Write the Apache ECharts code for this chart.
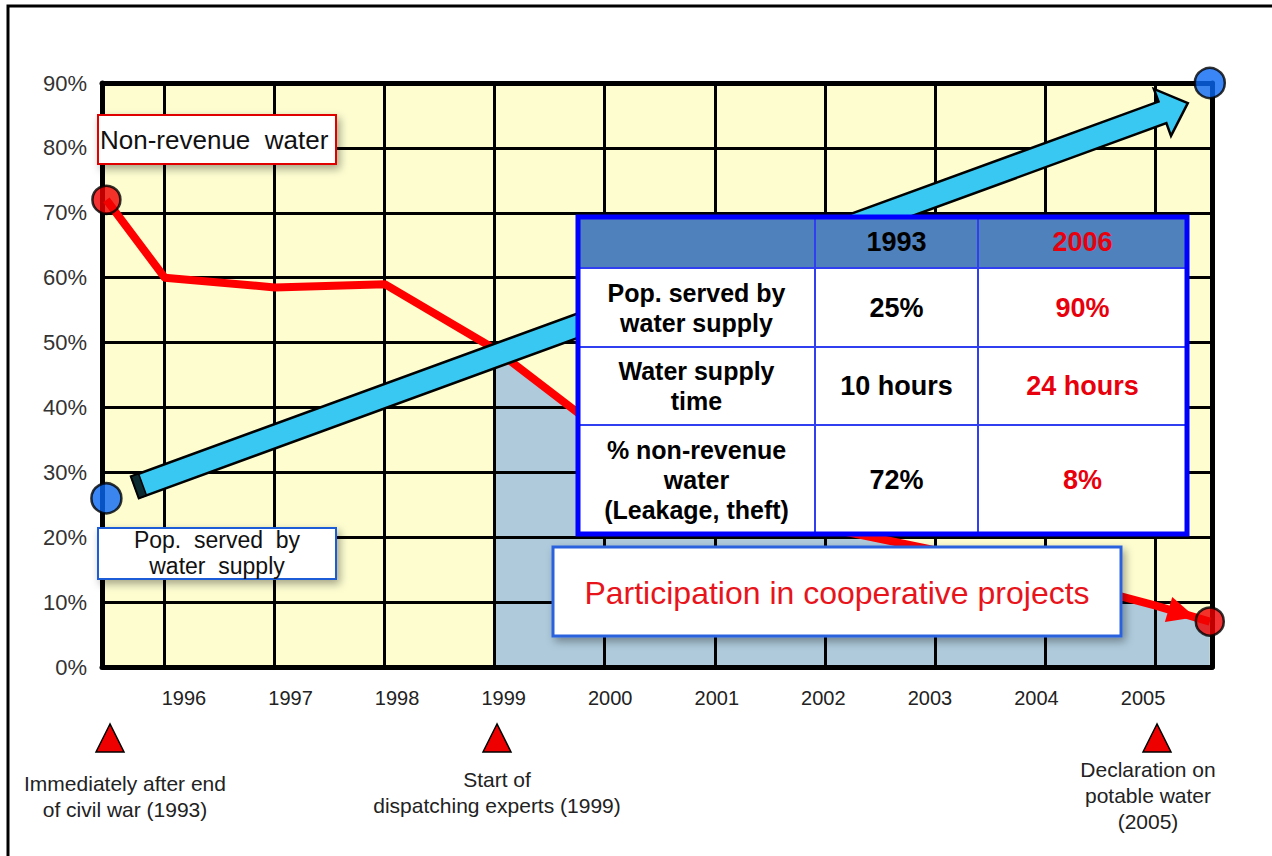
<!DOCTYPE html>
<html>
<head>
<meta charset="utf-8">
<script src="https://cdn.jsdelivr.net/npm/echarts@6/dist/echarts.min.js"></script>
<style>
html,body{margin:0;padding:0;background:#fff;}
#c{width:1272px;height:856px;}
</style>
</head>
<body>
<div id="c"></div>
<script>
// ---- data ----
const yearTicks = [1996, 1997, 1998, 1999, 2000, 2001, 2002, 2003, 2004, 2005];
const nrwYears = [1993, 1996, 1997, 1998, 1999, 2000, 2001, 2002, 2003, 2004, 2005, 2006];
const nrwValues = [72, 60, 58.5, 59, 49, 36, 29, 21.5, 18, 14, 9.5, 7];
const popYears = [1993, 2006];
const popValues = [26, 90];
const popArrowYears = [1995.73, 2005.3];
const popArrowValues = [27.7, 86.9];
const projectStartYear = 1999;
const tableHeader = ['', '1993', '2006'];
const tableRows = [
  ['Pop. served by\nwater supply', '25%', '90%'],
  ['Water supply\ntime', '10 hours', '24 hours'],
  ['% non-revenue\nwater\n(Leakage, theft)', '72%', '8%']
];
// the time axis is compressed at both ends: 1993 and 2006 sit at the plot edges
const edgeYear = {1993: 1995.47, 2006: 2005.5};
const xp = y => (edgeYear[y] !== undefined ? edgeYear[y] : y);

const FONT = '"Liberation Sans", Arial, sans-serif';
const nrwData = nrwYears.map((y, i) => [xp(y), nrwValues[i]]);
const areaData = nrwYears.map((y, i) => [xp(y), nrwValues[i]]).filter((d, i) => nrwYears[i] >= projectStartYear);
const popData = popYears.map((y, i) => [xp(y), popValues[i]]);
const nrwEnds = [nrwData[0], nrwData[nrwData.length - 1]];

const chart = echarts.init(document.getElementById('c'), null, {renderer: 'svg'});

function arrowPoly(s, t, shaftHalf, headHalf, headLen) {
  const dx = t[0] - s[0], dy = t[1] - s[1];
  const L = Math.hypot(dx, dy);
  const ux = dx / L, uy = dy / L, px = -uy, py = ux;
  const bx = t[0] - ux * headLen, by = t[1] - uy * headLen;
  return [
    [s[0] + px * shaftHalf, s[1] + py * shaftHalf],
    [bx + px * shaftHalf, by + py * shaftHalf],
    [bx + px * headHalf, by + py * headHalf],
    [t[0], t[1]],
    [bx - px * headHalf, by - py * headHalf],
    [bx - px * shaftHalf, by - py * shaftHalf],
    [s[0] - px * shaftHalf, s[1] - py * shaftHalf]
  ];
}

// table graphic
const TX = [578, 815, 978, 1187];
const TY = [217, 268, 347, 425, 534];
const tableEls = [];
tableEls.push({type: 'rect', shape: {x: TX[0], y: TY[0], width: TX[3] - TX[0], height: TY[4] - TY[0]}, style: {fill: '#fff'}});
tableEls.push({type: 'rect', shape: {x: TX[0], y: TY[0], width: TX[3] - TX[0], height: TY[1] - TY[0]}, style: {fill: '#4f81bd'}});
for (let i = 1; i < 4; i++) tableEls.push({type: 'line', shape: {x1: TX[0], y1: TY[i], x2: TX[3], y2: TY[i]}, style: {stroke: '#3040f0', lineWidth: 2}});
for (let i = 1; i < 3; i++) tableEls.push({type: 'line', shape: {x1: TX[i], y1: TY[0], x2: TX[i], y2: TY[4]}, style: {stroke: '#3040f0', lineWidth: 2}});
tableEls.push({type: 'rect', shape: {x: TX[0], y: TY[0], width: TX[3] - TX[0], height: TY[4] - TY[0]}, style: {fill: 'none', stroke: '#0000ff', lineWidth: 5}});
const cx = [(TX[0] + TX[1]) / 2, (TX[1] + TX[2]) / 2, (TX[2] + TX[3]) / 2];
[tableHeader].concat(tableRows).forEach((row, r) => {
  const cy = (TY[r] + TY[r + 1]) / 2 + (r === 0 ? -1 : 0);
  row.forEach((txt, c) => {
    if (!txt) return;
    const isLabel = c === 0;
    tableEls.push({
      type: 'text', x: cx[c], y: cy,
      style: {
        text: txt, fill: c === 2 ? '#e8000c' : '#000',
        font: 'bold ' + (isLabel ? 25 : 27) + 'px ' + FONT,
        textAlign: 'center', verticalAlign: 'middle', textVerticalAlign: 'middle',
        lineHeight: 30
      }
    });
  });
});

function tri(x) {
  return {type: 'polygon', shape: {points: [[x, 724], [x - 14, 752], [x + 14, 752]]}, style: {fill: '#ee0000', stroke: '#000', lineWidth: 1.5}};
}
function note(x, y, txt) {
  return {type: 'text', x: x, y: y, style: {text: txt, fill: '#222', font: '21px ' + FONT, textAlign: 'center', verticalAlign: 'middle', textVerticalAlign: 'middle', lineHeight: 26}};
}
function withZ(els, z) {
  return els.map(e => {
    const o = Object.assign({}, e, {z: z});
    if (o.children) o.children = withZ(o.children, z);
    return o;
  });
}
const shadow = {shadowBlur: 8, shadowColor: 'rgba(0,0,0,0.35)', shadowOffsetX: 3, shadowOffsetY: 4};

const overlay = [
  {type: 'rect', shape: {x: 98, y: 115, width: 238, height: 49}, style: Object.assign({fill: '#fff', stroke: '#e00000', lineWidth: 2}, shadow)},
  {type: 'text', x: 100, y: 140, style: {text: 'Non-revenue  water', fill: '#111', font: '26px ' + FONT, textAlign: 'left', verticalAlign: 'middle', textVerticalAlign: 'middle'}},
  {type: 'rect', shape: {x: 98, y: 528, width: 238, height: 51}, style: Object.assign({fill: '#fff', stroke: '#1f5bd6', lineWidth: 2}, shadow)},
  {type: 'text', x: 217, y: 553, style: {text: 'Pop.  served  by\nwater  supply', fill: '#111', font: '23px ' + FONT, textAlign: 'center', verticalAlign: 'middle', textVerticalAlign: 'middle', lineHeight: 26}}
].concat(tableEls).concat([
  {type: 'rect', shape: {x: 553, y: 547, width: 568, height: 89}, style: Object.assign({fill: '#fff', stroke: '#2a62de', lineWidth: 3}, shadow)},
  {type: 'text', x: 837, y: 593, style: {text: 'Participation in cooperative projects', fill: '#e8141c', font: '32px ' + FONT, textAlign: 'center', verticalAlign: 'middle', textVerticalAlign: 'middle'}},
  tri(110), tri(497), tri(1157),
  note(125, 796, 'Immediately after end\nof civil war (1993)'),
  note(497, 792, 'Start of\ndispatching experts (1999)'),
  note(1148, 795, 'Declaration on\npotable water\n(2005)')
]);

const option = {
  backgroundColor: '#fff',
  animation: false,
  grid: {left: 102, right: 60, top: 83, bottom: 189, show: true, backgroundColor: '#fdfdd0', borderWidth: 0},
  xAxis: [
    {type: 'value', min: 1995.43, max: 2005.52, splitNumber: 10, z: 3,
      axisLine: {show: true, onZero: false, lineStyle: {color: '#000', width: 5}},
      axisTick: {show: false, customValues: yearTicks},
      axisLabel: {show: false},
      splitLine: {show: true, lineStyle: {color: '#000', width: 3}}},
    {type: 'value', position: 'bottom', min: 1995.2305, max: 2005.647,
      axisLine: {show: false}, axisTick: {show: false, customValues: yearTicks},
      axisLabel: {show: true, customValues: yearTicks, formatter: v => String(Math.round(v)), color: '#222', fontSize: 20, fontFamily: FONT, margin: 21},
      splitLine: {show: false}},
    {type: 'value', position: 'top', min: 1995.43, max: 2005.52, z: 3,
      axisLine: {show: true, onZero: false, lineStyle: {color: '#000', width: 5}},
      axisTick: {show: false}, axisLabel: {show: false}, splitLine: {show: false}}
  ],
  yAxis: [
    {type: 'value', min: 0, max: 90, interval: 10, z: 3,
      axisLine: {show: true, onZero: false, lineStyle: {color: '#000', width: 5}},
      axisTick: {show: false},
      axisLabel: {formatter: '{value}%', color: '#333', fontSize: 22, fontFamily: FONT, margin: 15},
      splitLine: {show: true, lineStyle: {color: '#000', width: 3}}},
    {type: 'value', position: 'right', min: 0, max: 90, z: 3,
      axisLine: {show: true, onZero: false, lineStyle: {color: '#000', width: 5}},
      axisTick: {show: false}, axisLabel: {show: false}, splitLine: {show: false}}
  ],
  series: [
    {type: 'line', name: 'project area', data: areaData, xAxisIndex: 0, yAxisIndex: 0, symbol: 'none', z: 1, clip: false,
      lineStyle: {width: 0, opacity: 0}, areaStyle: {color: '#aecadb', opacity: 1}},
    {type: 'line', name: 'Non-revenue water', data: nrwData, xAxisIndex: 0, yAxisIndex: 0, symbol: 'none', z: 5, clip: false,
      lineStyle: {color: '#ff0000', width: 8, join: 'round'}},
    {type: 'custom', name: 'nrw head', xAxisIndex: 0, yAxisIndex: 0, z: 6, clip: false,
      data: [[nrwData[nrwData.length - 2][0], nrwData[nrwData.length - 2][1], nrwData[nrwData.length - 1][0], nrwData[nrwData.length - 1][1]]],
      encode: {x: [0, 2], y: [1, 3]},
      renderItem: function (params, api) {
        const a = api.coord([api.value(0), api.value(1)]);
        const b = api.coord([api.value(2), api.value(3)]);
        const dx = b[0] - a[0], dy = b[1] - a[1], L = Math.hypot(dx, dy);
        const ux = dx / L, uy = dy / L, px = -uy, py = ux;
        const tip = [b[0] - ux * 15, b[1] - uy * 15];
        const base = [tip[0] - ux * 28, tip[1] - uy * 28];
        return {type: 'polygon', shape: {points: [tip, [base[0] + px * 13, base[1] + py * 13], [base[0] - px * 13, base[1] - py * 13]]}, style: {fill: '#ff0000'}};
      }},
    {type: 'custom', name: 'Pop. served arrow', xAxisIndex: 0, yAxisIndex: 0, z: 7, clip: false,
      data: [[popArrowYears[0], popArrowValues[0], popArrowYears[1], popArrowValues[1]]],
      encode: {x: [0, 2], y: [1, 3]},
      renderItem: function (params, api) {
        const s = api.coord([api.value(0), api.value(1)]);
        const t = api.coord([api.value(2), api.value(3)]);
        const dx = t[0] - s[0], dy = t[1] - s[1], L = Math.hypot(dx, dy);
        const ux = dx / L, uy = dy / L, px = -uy, py = ux;
        const h = 11.5, c = 8;
        const cap = [[s[0] + px * h, s[1] + py * h], [s[0] + ux * c + px * h, s[1] + uy * c + py * h],
          [s[0] + ux * c - px * h, s[1] + uy * c - py * h], [s[0] - px * h, s[1] - py * h]];
        return {type: 'group', children: [
          {type: 'polygon', shape: {points: arrowPoly(s, t, h, 25, 27)}, style: {fill: '#38c8f2', stroke: '#000', lineWidth: 2.5, lineJoin: 'miter'}},
          {type: 'polygon', shape: {points: cap}, style: {fill: '#0c2b30', stroke: '#000', lineWidth: 1.5}}
        ]};
      }},
    {type: 'scatter', name: 'nrw ends', data: nrwEnds, xAxisIndex: 0, yAxisIndex: 0, z: 8, clip: false, symbolSize: 28,
      itemStyle: {color: '#f00000', borderColor: '#000', borderWidth: 2.5}},
    {type: 'scatter', name: 'pop ends', data: popData, xAxisIndex: 0, yAxisIndex: 0, z: 8, clip: false, symbolSize: 30,
      itemStyle: {color: '#0a68f5', borderColor: '#000', borderWidth: 2.5}}
  ],
  graphic: {elements: [
    {type: 'rect', z: -10, shape: {x: 8, y: 6, width: 1300, height: 900}, style: {fill: 'none', stroke: '#000', lineWidth: 3}}
  ].concat(withZ(overlay, 100))}
};
chart.setOption(option);
</script>
</body>
</html>
